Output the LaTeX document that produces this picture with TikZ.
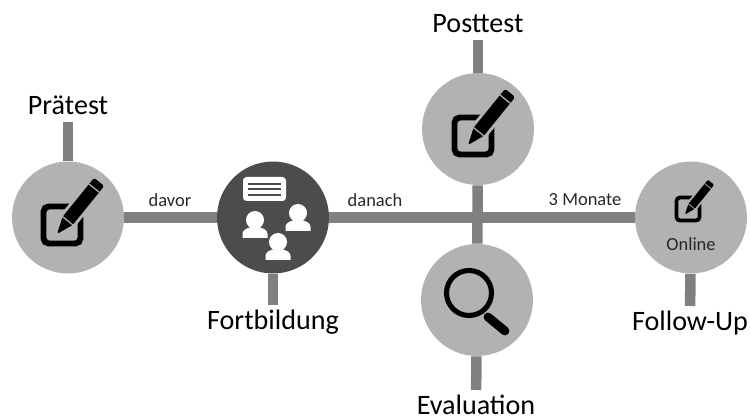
\documentclass[tikz,border=0pt]{standalone}
\usepackage{fontspec}
\setmainfont{Carlito}
\colorlet{stubgr}{black!50}
\colorlet{lightc}{black!30}
\colorlet{darkc}{black!70}
\tikzset{
    station/.style={circle,fill=lightc,inner sep=0pt,minimum size=2.24cm},
    link/.style={stubgr,line width=6pt},
    toplabel/.style={font=\fontsize{16}{16}\selectfont,inner sep=0pt,anchor=south,text depth=4pt},
    botlabel/.style={font=\fontsize{16}{16}\selectfont,inner sep=0pt,anchor=north,text height=13.5pt,text depth=0pt},
    linelabel/.style={font=\fontsize{10.5}{10.5}\selectfont,inner sep=0pt,text=black!85},
    pics/editicon/.style={code={
        \draw [black,line width=#1*3.4pt,rounded corners=#1*3pt] (-18.5,-18.5) rectangle (18.5,18.5);
        \begin{scope}[shift={(-5,-9)},rotate=51]
            \draw [lightc,line width=#1*3.4pt,line join=round] (0,0) -- (17,6.5) -- (67,6.5) -- (67,-6.5) -- (17,-6.5) -- cycle;
            \fill [black,rounded corners=#1*1pt] (0,0) -- (17,6.5) -- (67,6.5) -- (67,-6.5) -- (17,-6.5) -- cycle;
            \draw [lightc,line width=#1*.7pt] (17,6.5) -- (17,-6.5);
            \draw [lightc,line width=#1*.7pt] (59,6.5) -- (59,-6.5);
        \end{scope}
    }},
    pics/person/.style={code={
        \fill [white] (0,0) circle (9);
        \fill [white] (-12.5,-18) -- (-12.5,-14) to [out=90,in=200] (-4,-7) -- (4,-7) to [out=-20,in=90] (12.5,-14) -- (12.5,-18) -- cycle;
    }}
}
\begin{document}
\begin{tikzpicture}[x=0.02cm,y=0.02cm]
    \useasboundingbox (0,0) rectangle (750,419);
    \node [station] (pre) at (68,201.5) {};
    \node [station,fill=darkc] (fort) at (273,201.5) {};
    \node [station] (post) at (478,290) {};
    \node [station] (eval) at (477,119) {};
    \node [station] (online) at (691,201.5) {};
    % captions
    \node [toplabel] (prelabel) at (68,297) {Prätest};
    \node [toplabel] (postlabel) at (478,379) {Posttest};
    \node [botlabel] (fortlabel) at (273,114) {Fortbildung};
    \node [botlabel] (evallabel) at (476,29) {Evaluation};
    \node [botlabel] (followlabel) at (690,113) {Follow-Up};
    % connectors
    \draw [link] (pre) -- (fort);
    \draw [link] (fort) -- (online);
    \draw [link] (post) -- (eval);
    \draw [link] (pre) -- (prelabel);
    \draw [link] (post) -- (postlabel);
    \draw [link] (fort) -- (fortlabel);
    \draw [link] (eval) -- (evallabel);
    \draw [link] (online) -- (followlabel);
    % texts on the lines
    \node [linelabel] (davorlabel) at (170,219) {davor};
    \node [linelabel] (danachlabel) at (375,219) {danach};
    \node [linelabel] (monatelabel) at (585,219) {3 Monate};
    \node [linelabel] (onlinetext) at (691,175) {Online};
    % icons
    \pic at (62,194) {editicon=1};
    \pic at (473,283) {editicon=1};
    \pic [scale=.62] at (688,210) {editicon=.62};
    \draw [black,line width=2.9pt] (469,126) circle (22.5);
    \draw [black,line width=5pt,line cap=round] (488,102) -- (505,88);
    \fill [white,rounded corners=2pt] (243,242) rectangle (286,218);
    \foreach \y in {235,230,224} {
        \draw [darkc,line width=.8pt] (248,\y) -- (281,\y);
    }
    \foreach \x/\y in {255/199,298/206,278/177} {
        \pic at (\x,\y) {person};
    }
\end{tikzpicture}
\end{document}
